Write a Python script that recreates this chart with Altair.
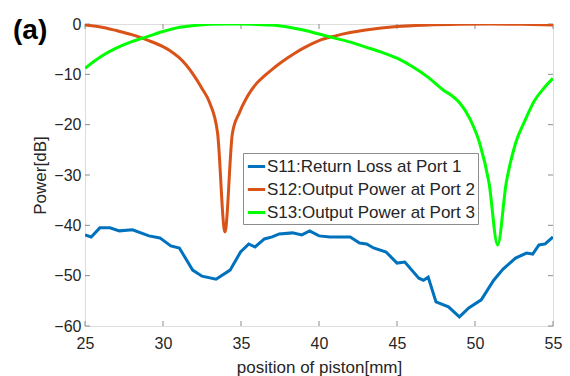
import altair as alt
import pandas as pd

# ---- data ----
series_names = ["S11:Return Loss at Port 1", "S12:Output Power at Port 2", "S13:Output Power at Port 3"]
series_colors = ["#0072BD", "#D95319", "#00FF00"]

s11_x = [25, 25.4, 25.95, 26.6, 27.2, 28.05, 29.1, 29.8, 30.5, 31.05, 31.9, 32.5, 33.4, 34.3, 34.97,
         35.5, 35.9, 36.5, 37, 37.45, 38.3, 38.9, 39.4, 40, 40.7, 42, 42.6, 43.05, 43.5, 44.3, 45,
         45.5, 46.4, 46.7, 47.0, 47.5, 48.3, 49.0, 49.6, 50.4, 51.2, 51.8, 52.6, 53.3, 53.7, 54.1, 54.5, 55]
s11_y = [-41.9, -42.3, -40.5, -40.5, -41.1, -40.9, -42.1, -42.5, -44.1, -44.5, -48.9, -50.1, -50.7, -48.9, -45.3,
         -43.7, -44.3, -42.7, -42.3, -41.7, -41.5, -41.9, -41.1, -42.1, -42.3, -42.3, -43.5, -43.7, -44.5, -45.3, -47.5,
         -47.3, -50.5, -50.9, -50.3, -55.2, -56.2, -58.2, -56.4, -54.8, -50.9, -48.7, -46.5, -45.5, -45.7, -43.9, -43.7, -42.3]

s12_x = [25, 26, 27, 28, 29, 30, 30.5, 31, 31.5, 32, 32.5, 33, 33.5, 33.97, 34.45, 34.9, 35.3, 35.7, 36,
         36.5, 37, 37.5, 38, 38.5, 39, 39.5, 40, 41, 42, 43, 44, 45, 47, 49, 51, 53, 55]
s12_y = [-0.2, -0.6, -1.3, -2.1, -3.2, -4.5, -5.4, -6.6, -8.2, -10.3, -12.8, -15.7, -21.7, -41.3, -21.7, -17.6,
         -15.0, -13.0, -11.8, -10.3, -9.0, -7.8, -6.7, -5.7, -4.8, -4.0, -3.3, -2.4, -1.7, -1.2, -0.8, -0.5,
         -0.2, -0.05, 0.0, -0.05, -0.2]

s13_x = [25, 26, 27, 28, 29, 30, 31, 32, 33, 34, 35, 36, 37, 38, 39, 40, 41, 42, 43, 44, 45, 46, 47, 48,
         48.5, 49.0, 49.7, 50.3, 50.9, 51.45, 52.0, 52.6, 53.2, 53.8, 54.4, 55]
s13_y = [-8.8, -6.5, -4.8, -3.5, -2.5, -1.5, -0.7, -0.3, -0.05, 0.0, 0.0, -0.1, -0.2, -0.6, -1.2, -2.0, -2.8,
         -3.6, -4.6, -5.6, -6.8, -8.5, -10.6, -13.2, -14.2, -15.6, -19.0, -23.7, -31.6, -43.9, -31.6, -23.7,
         -19.2, -15.3, -12.8, -10.8]

x_ticks = [25, 30, 35, 40, 45, 50, 55]
y_ticks = [0, -10, -20, -30, -40, -50, -60]

# ---- build table ----
rows = []
for name, xs, ys in zip(series_names, [s11_x, s12_x, s13_x], [s11_y, s12_y, s13_y]):
    for i, (xv, yv) in enumerate(zip(xs, ys)):
        rows.append({"series": name, "x": xv, "y": yv, "i": i})
df = pd.DataFrame(rows)

W, H = 468, 302
AXC = "#8c8c8c"
TXT = "#262626"
FONT = "Liberation Sans"
TL = 5

xscale = alt.Scale(domain=[25, 55], nice=False, zero=False)
yscale = alt.Scale(domain=[-60, 0], nice=False, zero=False)

xaxis = alt.Axis(values=x_ticks, title="position of piston[mm]", domain=False, ticks=False,
                 grid=False, labelPadding=9, labelFontSize=16, titleFontSize=17, labelFlush=False,
                 labelColor=TXT, titleColor=TXT, labelFont=FONT, titleFont=FONT,
                 titleFontWeight="normal", titlePadding=8)
yaxis = alt.Axis(values=y_ticks, title="Power[dB]", domain=False, ticks=False,
                 grid=False, labelPadding=4, labelFontSize=16, titleFontSize=17, labelFlush=False,
                 labelColor=TXT, titleColor=TXT, labelFont=FONT, titleFont=FONT,
                 titleFontWeight="normal", titlePadding=4)

color = alt.Color("series:N", scale=alt.Scale(domain=series_names, range=series_colors),
                  legend=alt.Legend(title=None, orient="none", legendX=158, legendY=129,
                                    symbolType="stroke", symbolSize=300, symbolStrokeWidth=3,
                                    labelFontSize=17, labelFont=FONT, labelColor=TXT, labelLimit=0,
                                    labelOffset=0, rowPadding=4, padding=3,
                                    strokeColor=AXC, fillColor="white", cornerRadius=0))

base = alt.Chart(df).encode(
    x=alt.X("x:Q", scale=xscale, axis=xaxis),
    y=alt.Y("y:Q", scale=yscale, axis=yaxis),
    color=color,
    order="i:Q",
)
line_s11 = base.transform_filter(alt.datum.series == series_names[0]).mark_line(strokeWidth=3, clip=True)
line_s12 = base.transform_filter(alt.datum.series == series_names[1]).mark_line(
    strokeWidth=3, clip=True, interpolate="monotone")
line_s13 = base.transform_filter(alt.datum.series == series_names[2]).mark_line(
    strokeWidth=3, clip=True, interpolate="monotone")

xt = pd.DataFrame({"x": x_ticks})
yt = pd.DataFrame({"y": y_ticks})
tick_bottom = alt.Chart(xt).mark_rule(color=AXC, strokeWidth=1).encode(
    x=alt.X("x:Q", scale=xscale, axis=xaxis), y=alt.value(H), y2=alt.value(H - TL))
tick_top = alt.Chart(xt).mark_rule(color=AXC, strokeWidth=1).encode(
    x=alt.X("x:Q", scale=xscale, axis=xaxis), y=alt.value(0), y2=alt.value(TL))
tick_left = alt.Chart(yt).mark_rule(color=AXC, strokeWidth=1).encode(
    y=alt.Y("y:Q", scale=yscale, axis=yaxis), x=alt.value(0), x2=alt.value(TL))
tick_right = alt.Chart(yt).mark_rule(color=AXC, strokeWidth=1).encode(
    y=alt.Y("y:Q", scale=yscale, axis=yaxis), x=alt.value(W), x2=alt.value(W - TL))

chart = alt.layer(tick_bottom, tick_top, tick_left, tick_right, line_s11, line_s12, line_s13).properties(
    width=W, height=H,
    title=alt.TitleParams(text="(a)", anchor="start", frame="group", fontSize=28, font=FONT,
                          fontWeight="bold", color="black", baseline="alphabetic",
                          offset=0, dx=-72, dy=51),
    autosize=alt.AutoSizeParams(type="none"),
    padding={"left": 77, "top": 16, "right": 9, "bottom": 50},
).configure_view(stroke=AXC, strokeWidth=1).configure(background="white")

chart.save("out.html", embed_options={"renderer": "svg", "actions": False})
